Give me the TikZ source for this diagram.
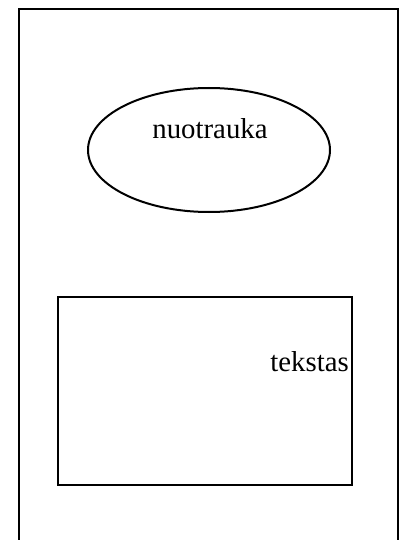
\documentclass[tikz,border=0pt]{standalone}
\usepackage{fontspec}
\setmainfont{Liberation Serif}
\usetikzlibrary{shapes.geometric}
\tikzset{
  frame/.style={draw=black, line width=2pt},
  lbl/.style={inner sep=0pt, font=\fontsize{28.8pt}{34pt}\selectfont, anchor=base}
}
\begin{document}
\begin{tikzpicture}[x=1pt,y=-1pt]
\useasboundingbox (0,0) rectangle (400,540);
\clip (0,0) rectangle (400,540);
\draw[frame] (18.5,9) rectangle (397.5,560);
\node[frame, ellipse, minimum width=242pt, minimum height=124pt, inner sep=0pt] (photo) at (209,150) {};
\node[lbl] (photolbl) at (210,138.5) {nuotrauka};
\node[frame, rectangle, minimum width=294pt, minimum height=188pt, inner sep=0pt] (box) at (205,390.5) {};
\node[lbl, anchor=base east] (boxlbl) at (349,371) {tekstas};
\end{tikzpicture}
\end{document}
